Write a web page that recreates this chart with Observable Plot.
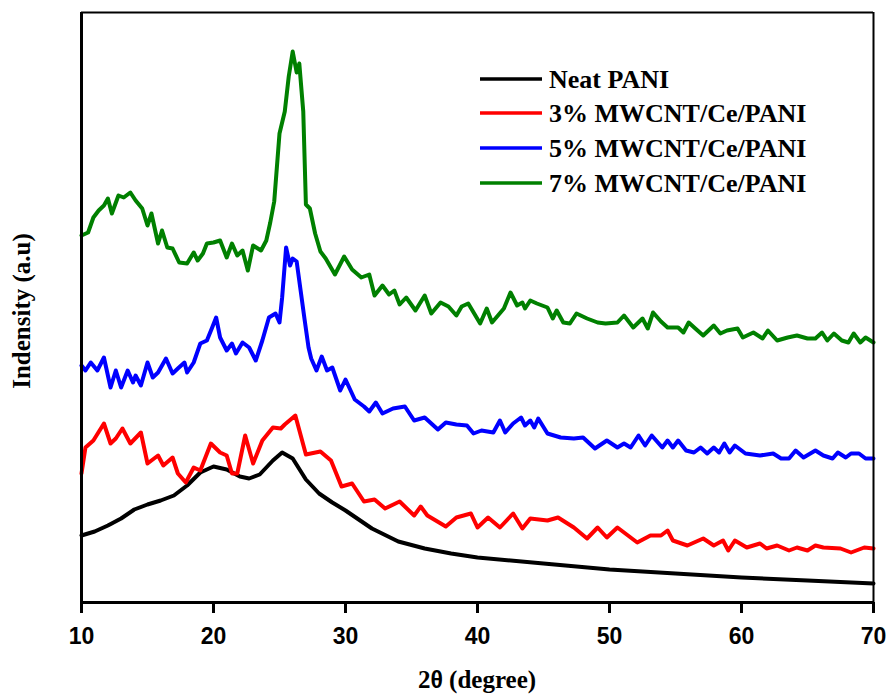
<!DOCTYPE html>
<html>
<head>
<meta charset="utf-8">
<script src="https://cdn.jsdelivr.net/npm/d3@7"></script>
<script src="https://cdn.jsdelivr.net/npm/@observablehq/plot@0.6"></script>
<style>
  html, body { margin: 0; padding: 0; background: #fff; }
  #chart svg { display: block; }
</style>
</head>
<body>
<div id="chart"></div>
<script>
const seriesNames = ["Neat PANI", "3% MWCNT/Ce/PANI", "5% MWCNT/Ce/PANI", "7% MWCNT/Ce/PANI"];
const seriesColors = ["#000000", "#ff0000", "#0000ff", "#008000"];
const xTicks = [10, 20, 30, 40, 50, 60, 70];

const neatTheta = [10, 11, 12, 13, 14, 15, 16, 17, 18, 19, 20, 21, 22, 22.7, 23.5, 24.5, 25.2, 26, 27, 28, 29, 30, 32, 34, 36, 38, 40, 45, 50, 55, 60, 65, 70];
const neatI = [67, 71, 77, 84, 93, 98, 102, 107, 117, 130, 136, 133, 126, 124, 128, 142, 150, 144, 123, 109, 100, 92, 74, 61, 54, 49, 45, 39, 33, 29, 25, 22, 19];

const p3Theta = [10, 10.3, 10.9, 11.7, 12.2, 12.6, 13.1, 13.7, 14.5, 15, 15.8, 16.2, 16.9, 17.3, 17.9, 18.5, 19, 19.8, 20.5, 21, 21.4, 21.8, 22.4, 23, 23.7, 24.5, 25.1, 25.4, 26.2, 27, 28.1, 28.9, 29.7, 30.5, 31.4, 32.2, 33, 34.1, 35.2, 35.7, 36.2, 37.6, 38.4, 39.5, 40, 40.8, 41.7, 42.7, 43.4, 44, 45.3, 46.1, 47.3, 48.3, 49.1, 49.8, 50.6, 52.1, 53.1, 53.9, 54.4, 54.8, 55.9, 57.1, 57.9, 58.6, 59, 59.5, 60.4, 61.4, 61.9, 62.7, 63.6, 64.2, 65, 65.6, 66.2, 67.5, 68.3, 69.3, 70];
const p3I = [129, 155, 162, 179, 159, 164, 174, 159, 170, 139, 147, 137, 145, 129, 120, 135, 132, 159, 150, 147, 129, 129, 167, 139, 162, 175, 174, 178, 187, 148, 151, 142, 116, 119, 101, 103, 94, 101, 87, 96, 87, 76, 85, 89, 75, 85, 75, 89, 74, 84, 82, 85, 75, 64, 75, 65, 75, 60, 67, 67, 72, 62, 57, 64, 57, 62, 52, 62, 55, 59, 54, 57, 52, 55, 52, 57, 55, 54, 50, 55, 54];

const p5Theta = [10, 10.3, 10.7, 11.2, 11.7, 12.2, 12.6, 13, 13.5, 13.9, 14.1, 14.5, 15, 15.4, 15.8, 16.4, 16.9, 17.3, 17.8, 18, 18.5, 19, 19.5, 19.9, 20.2, 20.5, 21, 21.4, 21.7, 22.2, 22.7, 23.2, 23.7, 24.2, 24.7, 25, 25.2, 25.5, 25.8, 26, 26.3, 26.6, 26.9, 27.2, 27.4, 27.8, 28.2, 28.6, 29, 29.6, 30, 30.7, 31.4, 31.8, 32.3, 32.8, 33.6, 34.5, 35.2, 36, 37, 37.6, 38.4, 39.2, 39.7, 40.3, 41.2, 41.7, 42.1, 42.7, 43.3, 43.6, 44, 44.3, 44.6, 45.3, 46.3, 47.3, 48, 48.9, 49.8, 50.6, 51.1, 51.6, 52.2, 52.7, 53.2, 54, 54.4, 54.8, 55.2, 55.8, 56.4, 56.9, 57.4, 57.9, 58.3, 58.7, 59.1, 59.5, 60.3, 61.4, 62.4, 63, 63.6, 64.1, 64.7, 65.6, 66.2, 66.9, 67.3, 67.9, 68.3, 68.9, 69.4, 70];
const p5I = [237, 232, 240, 232, 245, 215, 232, 215, 232, 220, 227, 217, 240, 225, 230, 244, 229, 234, 240, 230, 240, 259, 262, 275, 285, 265, 252, 259, 249, 260, 255, 242, 262, 285, 289, 280, 305, 355, 337, 344, 341, 312, 283, 255, 244, 232, 246, 232, 235, 212, 223, 203, 196, 191, 200, 189, 194, 196, 182, 185, 173, 180, 178, 177, 169, 172, 170, 182, 170, 179, 185, 177, 182, 175, 184, 169, 165, 164, 165, 154, 162, 155, 159, 155, 167, 157, 167, 155, 162, 155, 162, 152, 150, 155, 149, 155, 150, 159, 150, 157, 149, 147, 149, 144, 144, 152, 145, 152, 147, 144, 150, 145, 149, 149, 144, 144];

const p7Theta = [10, 10.5, 10.9, 11.3, 11.7, 12, 12.3, 12.8, 13.2, 13.7, 14.1, 14.6, 15, 15.3, 15.8, 16.1, 16.5, 16.9, 17.4, 18, 18.5, 18.8, 19.2, 19.5, 20, 20.5, 21, 21.4, 21.8, 22.2, 22.6, 23, 23.6, 24, 24.3, 24.6, 25, 25.4, 25.7, 26, 26.3, 26.5, 26.8, 27, 27.3, 27.7, 28.1, 28.5, 29.2, 29.9, 30.5, 31.2, 31.8, 32.2, 32.8, 33.3, 33.7, 34.1, 34.6, 35.3, 36, 36.5, 37.2, 37.8, 38.4, 38.8, 39.3, 40.2, 40.7, 41.1, 42, 42.5, 43, 43.4, 43.6, 44, 44.5, 45.3, 45.7, 46, 46.5, 47, 47.5, 48.3, 49.1, 49.7, 50.6, 51.1, 51.8, 52.5, 52.9, 53.3, 53.9, 54.4, 55.2, 55.6, 56, 56.5, 57.1, 57.9, 58.4, 58.9, 59.7, 60.1, 60.9, 61.6, 62, 62.7, 63.5, 64.2, 65, 65.6, 66.1, 66.5, 67, 67.6, 68.1, 68.5, 69, 69.4, 70];
const p7I = [367, 370, 385, 392, 397, 404, 389, 407, 405, 410, 402, 394, 377, 389, 359, 372, 355, 354, 340, 339, 350, 342, 349, 359, 360, 362, 345, 359, 347, 352, 332, 357, 352, 362, 380, 401, 469, 491, 526, 551, 530, 539, 491, 398, 394, 369, 351, 344, 328, 346, 333, 325, 328, 307, 317, 308, 312, 298, 305, 292, 307, 289, 300, 296, 287, 296, 299, 279, 294, 280, 294, 310, 297, 300, 294, 302, 299, 295, 284, 292, 280, 279, 289, 284, 280, 279, 280, 287, 275, 284, 274, 290, 281, 275, 275, 270, 280, 274, 267, 277, 269, 272, 274, 265, 270, 264, 272, 262, 265, 267, 264, 264, 270, 262, 269, 262, 260, 269, 260, 265, 260];

const thetas = [neatTheta, p3Theta, p5Theta, p7Theta];
const intens = [neatI, p3I, p5I, p7I];
const data = [];
seriesNames.forEach((name, k) => {
  thetas[k].forEach((t, i) => data.push({series: name, theta: t, I: intens[k][i]}));
});

const W = 891, H = 696;
const mL = 81, mR = 18, mT = 12, mB = 94;

const plot = Plot.plot({
  width: W, height: H,
  marginLeft: mL, marginRight: mR, marginTop: mT, marginBottom: mB,
  x: {domain: [10, 70]},
  y: {domain: [0, 590], axis: null},
  color: {domain: seriesNames, range: seriesColors},
  style: {background: "#fff", overflow: "visible"},
  marks: [
    Plot.line(data, {x: "theta", y: "I", z: "series", stroke: "series", strokeWidth: 4, strokeLinejoin: "round", strokeLinecap: "round"}),
    Plot.ruleY([590], {stroke: "#000", strokeWidth: 2}),
    Plot.ruleX([70], {stroke: "#000", strokeWidth: 2}),
    Plot.ruleX([10], {stroke: "#000", strokeWidth: 3}),
    Plot.ruleY([0], {stroke: "#000", strokeWidth: 3}),
    Plot.axisX({ticks: xTicks, tickSize: 11, tickPadding: 14, strokeWidth: 3, stroke: "#000", fill: "#000",
      fontSize: 23, fontWeight: "bold", fontFamily: "Liberation Sans, Arial, sans-serif", label: null, tickFormat: d => String(d)})
  ]
});

document.getElementById("chart").appendChild(plot);
const svg = d3.select(plot);
const serif = "Liberation Serif, Times New Roman, serif";

// axis titles
const xt = svg.append("text")
  .attr("x", 477).attr("y", 688)
  .attr("text-anchor", "middle")
  .attr("font-family", serif).attr("font-weight", "bold").attr("font-size", 25).attr("fill", "#000");
xt.append("tspan").text("2");
xt.append("tspan").attr("font-family", "Liberation Sans, Arial, sans-serif").attr("font-size", 23).text("θ");
xt.append("tspan").text(" (degree)");

svg.append("text")
  .attr("transform", "translate(30,311) rotate(-90)")
  .attr("text-anchor", "middle")
  .attr("font-family", serif).attr("font-weight", "bold").attr("font-size", 25).attr("fill", "#000")
  .text("Indensity (a.u)");

// legend
const legY = [79, 113, 148, 183];
const leg = svg.append("g").attr("text-anchor", "start");
seriesNames.forEach((name, k) => {
  leg.append("line").attr("x1", 480).attr("x2", 542).attr("y1", legY[k]).attr("y2", legY[k])
    .attr("stroke", seriesColors[k]).attr("stroke-width", 3.5);
  leg.append("text").attr("x", 549).attr("y", legY[k]).attr("dy", "0.34em")
    .attr("text-anchor", "start")
    .attr("font-family", serif).attr("font-weight", "bold").attr("font-size", 26).attr("fill", "#000")
    .text(name);
});
</script>
</body>
</html>
